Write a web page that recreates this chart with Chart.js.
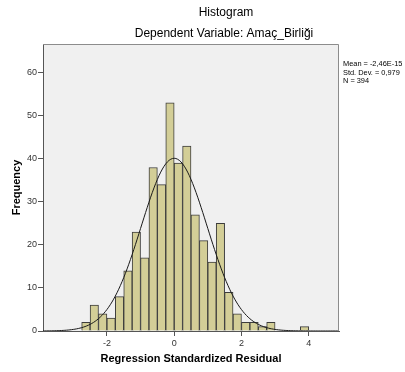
<!DOCTYPE html>
<html>
<head>
<meta charset="utf-8">
<script src="https://cdn.jsdelivr.net/npm/chart.js@4/dist/chart.umd.min.js"></script>
<style>
  body { margin: 0; background: #fff; }
  canvas { display: block; }
</style>
</head>
<body>
<canvas id="myChart" width="405" height="372"></canvas>
<script>
// bins are 0.25 wide, values are the lower edge of each bin
const binStarts = [-2.75, -2.5, -2.25, -2, -1.75, -1.5, -1.25, -1, -0.75, -0.5, -0.25,
  0, 0.25, 0.5, 0.75, 1, 1.25, 1.5, 1.75, 2, 2.25, 2.5, 2.75, 3.75];
const counts = [2, 6, 4, 3, 8, 14, 23, 17, 38, 34, 53,
  39, 43, 27, 21, 16, 25, 9, 4, 2, 2, 1, 2, 1];
const binWidth = 0.25;

const xTicks = [-2, 0, 2, 4];
const yTicks = [0, 10, 20, 30, 40, 50, 60];

// summary shown at the right of the plot
const mean = -2.46e-15;
const stdDev = 0.979;
const n = 394;
const statLines = ["Mean = -2,46E-15", "Std. Dev. = 0,979", "N = 394"];

const FONT = "'Liberation Sans', Arial, sans-serif";

const barData = binStarts.map((b, i) => ({ x: b + binWidth / 2, y: counts[i] }));

// normal curve scaled to counts per bin
const curve = [];
for (let x = -3.9; x <= 4.9001; x += 0.05) {
  const z = (x - mean) / stdDev;
  const y = (n * binWidth) / (stdDev * Math.sqrt(2 * Math.PI)) * Math.exp(-0.5 * z * z);
  curve.push({ x: x, y: y });
}

const frame = {
  id: "frame",
  beforeDraw(chart) {
    const { ctx, chartArea } = chart;
    ctx.save();
    ctx.fillStyle = "#fff";
    ctx.fillRect(0, 0, chart.width, chart.height);
    ctx.fillStyle = "#f0f0f0";
    ctx.fillRect(chartArea.left, chartArea.top, chartArea.right - chartArea.left, chartArea.bottom - chartArea.top);
    ctx.restore();
  },
  afterDraw(chart) {
    const { ctx, chartArea } = chart;
    ctx.save();
    // top and right edge of the plot box
    ctx.strokeStyle = "#8c8c8c";
    ctx.lineWidth = 1;
    ctx.beginPath();
    ctx.moveTo(chartArea.left, chartArea.top + 0.5);
    ctx.lineTo(chartArea.right - 0.5, chartArea.top + 0.5);
    ctx.lineTo(chartArea.right - 0.5, chartArea.bottom);
    ctx.stroke();

    ctx.fillStyle = "#000";
    ctx.textAlign = "center";
    ctx.textBaseline = "middle";
    ctx.font = "12px " + FONT;
    ctx.fillText("Histogram", 226, 13);
    ctx.fillText("Dependent Variable: Amaç_Birliği", 224, 34);

    ctx.textAlign = "left";
    ctx.font = "7.4px " + FONT;
    statLines.forEach((t, i) => ctx.fillText(t, 343, 64 + i * 8.5));
    ctx.restore();
  },
};

new Chart(document.getElementById("myChart").getContext("2d"), {
  data: {
    datasets: [
      {
        type: "line",
        data: curve,
        borderColor: "#1a1a1a",
        borderWidth: 1,
        pointRadius: 0,
        fill: false,
        order: 0,
      },
      {
        type: "bar",
        data: barData,
        backgroundColor: "#d3ce97",
        borderColor: "#3c3c3c",
        borderWidth: 1,
        barPercentage: 1,
        categoryPercentage: 1,
        order: 1,
      },
    ],
  },
  options: {
    responsive: false,
    animation: false,
    layout: { padding: { top: 44, right: 66, left: 0, bottom: 0 } },
    plugins: {
      legend: { display: false },
      tooltip: { enabled: false },
    },
    scales: {
      x: {
        type: "linear",
        min: -3.9,
        max: 4.9,
        offset: false,
        afterFit: (scale) => { scale.height = 41; },
        afterBuildTicks: (scale) => { scale.ticks = xTicks.map((v) => ({ value: v })); },
        grid: { offset: false, drawOnChartArea: false, drawTicks: true, tickLength: 5, color: "#555" },
        border: { color: "#555" },
        ticks: { color: "#333", font: { family: FONT, size: 9 }, padding: 2, maxRotation: 0 },
        title: {
          display: true,
          text: "Regression Standardized Residual",
          color: "#000",
          font: { family: FONT, size: 11, weight: "bold" },
          padding: { top: 0, bottom: 6 },
        },
      },
      y: {
        min: 0,
        max: 66.7,
        afterFit: (scale) => { scale.width = 43; },
        afterBuildTicks: (scale) => { scale.ticks = yTicks.map((v) => ({ value: v })); },
        grid: { drawOnChartArea: false, drawTicks: true, tickLength: 5, color: "#555" },
        border: { color: "#555" },
        ticks: { color: "#333", font: { family: FONT, size: 9 }, padding: 1 },
        title: {
          display: true,
          text: "Frequency",
          color: "#000",
          font: { family: FONT, size: 11, weight: "bold" },
          padding: { top: 10, bottom: 0 },
        },
      },
    },
  },
  plugins: [frame],
});
</script>
</body>
</html>
